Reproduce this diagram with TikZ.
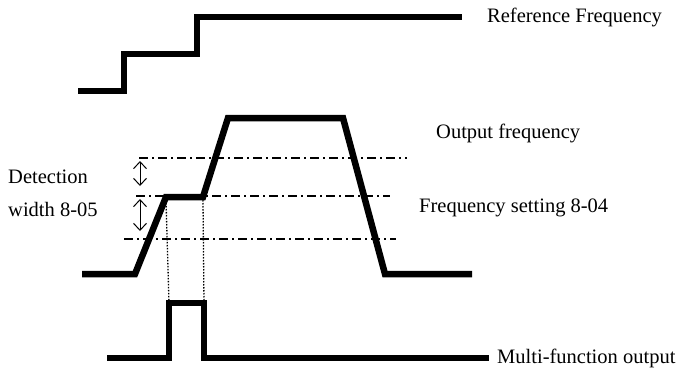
\documentclass[tikz,border=0pt]{standalone}
\usepackage{fontspec}
\setmainfont{Liberation Serif}
\usetikzlibrary{arrows.meta}

\tikzset{
  signal/.style={line width=6.5pt, line join=miter},
  level/.style={line width=1.1pt, dash pattern=on 9pt off 4pt on 2pt off 4pt},
  guide/.style={line width=1.3pt, dash pattern=on 1.5pt off 1.5pt},
  span/.style={line width=1pt, {Straight Barb[length=7pt,width=13pt]}-{Straight Barb[length=7pt,width=13pt]}},
  lbl/.style={inner sep=0pt, font=\fontsize{20.5}{24}\selectfont}
}

\begin{document}
\begin{tikzpicture}[x=1pt, y=-1pt]
    \useasboundingbox (0,0) rectangle (691,372);

    % reference frequency (stepped)
    \coordinate (R0) at (78,91);
    \coordinate (R1) at (124,91);
    \coordinate (R2) at (124,54);
    \coordinate (R3) at (197,54);
    \coordinate (R4) at (197,17);
    \coordinate (R5) at (462,17);
    \draw[signal] (R0) -- (R1) -- (R2) -- (R3) -- (R4) -- (R5);
    \node[lbl, anchor=west] (ref) at (487,17) {Reference Frequency};

    % output frequency
    \coordinate (F0) at (82,274);
    \coordinate (F1) at (135,274);
    \coordinate (F2) at (166,197);
    \coordinate (F3) at (203,197);
    \coordinate (F4) at (228,118);
    \coordinate (F5) at (343,118);
    \coordinate (F6) at (385,274);
    \coordinate (F7) at (472,274);
    \draw[signal] (F0) -- (F1) -- (F2) -- (F3) -- (F4) -- (F5) -- (F6) -- (F7);
    \node[lbl, anchor=west] (out) at (436,133) {Output frequency};

    % detection band
    \coordinate (U0) at (139,158);
    \coordinate (U1) at (407,158);
    \coordinate (M0) at (136,196);
    \coordinate (M1) at (390,196);
    \coordinate (L0) at (124,239);
    \coordinate (L1) at (396,239);
    \draw[level] (U0) -- (U1);
    \draw[level] (M0) -- (M1);
    \draw[level] (L0) -- (L1);

    \coordinate (A0) at (140,161);
    \coordinate (A1) at (140,186);
    \coordinate (B0) at (140,199);
    \coordinate (B1) at (140,231);
    \draw[span] (A0) -- (A1);
    \draw[span] (B0) -- (B1);

    \node[lbl, anchor=west] (det) at (8,177) {Detection};
    \node[lbl, anchor=west] (wid) at (8,209) {width 8-05};
    \node[lbl, anchor=west] (set) at (419,208) {Frequency setting 8-04};

    % multi-function output
    \coordinate (P0) at (107,358);
    \coordinate (P1) at (169,358);
    \coordinate (P2) at (169,303);
    \coordinate (P3) at (204,303);
    \coordinate (P4) at (204,358);
    \coordinate (P5) at (489,358);
    \draw[signal] (P0) -- (P1) -- (P2) -- (P3) -- (P4) -- (P5);
    \node[lbl, anchor=west] (mfo) at (497,358) {Multi-function output};

    % dotted guides
    \draw[guide] (F2) ++(0,3) -- (P2);
    \draw[guide] (F3) ++(0,3) -- (P3);
\end{tikzpicture}
\end{document}
